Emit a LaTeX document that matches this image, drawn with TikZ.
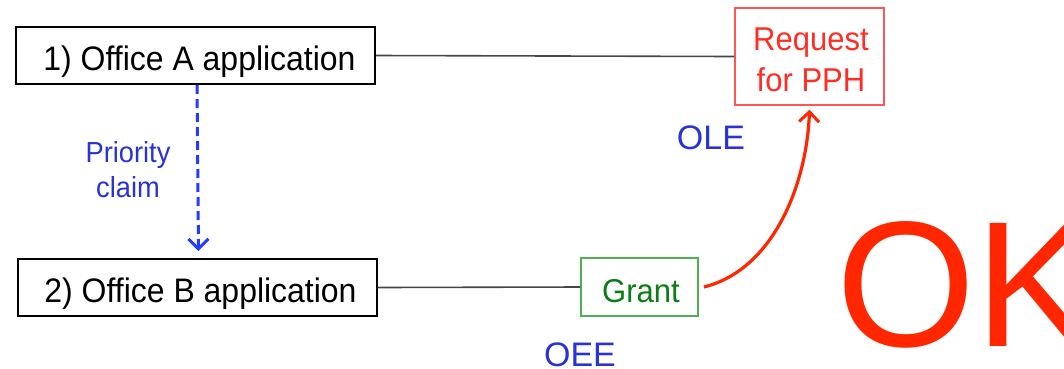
\documentclass[tikz,border=0pt]{standalone}
\usepackage{fontspec}
\setmainfont{Liberation Sans}
\newfontfamily\nsans[FakeStretch=0.94]{Liberation Sans}
\usetikzlibrary{arrows.meta}
\definecolor{tblue}{RGB}{40,50,215}
\definecolor{dblue}{RGB}{35,60,255}
\definecolor{tgreen}{RGB}{10,125,20}
\definecolor{bgreen}{RGB}{80,175,80}
\definecolor{tred}{RGB}{255,45,35}
\definecolor{bred}{RGB}{255,85,85}
\definecolor{okred}{RGB}{255,38,0}
\definecolor{lgrey}{RGB}{70,70,70}
\tikzset{
  appbox/.style={draw=black, line width=2pt, minimum width=359pt, minimum height=57pt, inner sep=0pt, text height=29pt, text depth=0pt, font=\nsans\fontsize{34}{40}\selectfont},
  reqbox/.style={draw=bred, line width=1.5pt, minimum width=149pt, minimum height=97pt, inner sep=0pt},
  reqtext/.style={inner sep=0pt, align=center, text=tred, font=\nsans\fontsize{33}{41}\selectfont},
  grantbox/.style={draw=bgreen, line width=1.8pt, minimum width=117pt, minimum height=58pt, inner sep=0pt, text height=30pt, text depth=0pt, text=tgreen, font=\nsans\fontsize{33}{38}\selectfont},
  officelbl/.style={text=tblue, inner sep=0pt, font=\fontsize{34}{40}\selectfont},
  claimlbl/.style={text=tblue, inner sep=0pt, align=center, font=\nsans\fontsize{29}{35}\selectfont},
  link/.style={draw=lgrey, line width=1.6pt},
  claimarrow/.style={draw=dblue, line width=3pt, dash pattern=on 9pt off 5pt, -{Straight Barb[length=10pt,width=20pt,line width=3pt]}},
  pptharrow/.style={draw=okred, line width=3.2pt, -{Straight Barb[length=10pt,width=20pt,line width=3pt]}},
  oklbl/.style={text=okred, inner sep=0pt, anchor=base west, font=\fontsize{179}{179}\selectfont}
}
\begin{document}
\begin{tikzpicture}[x=1pt,y=-1pt]
\clip (0,0) rectangle (1064,368);
\node[appbox] (A) at (195.5,55.5) {\hspace*{8pt}1) Office A application};
\node[appbox] (B) at (197,287.5) {\hspace*{7pt}2) Office B application};
\node[reqbox] (R) at (809.5,56.5) {};
\node[reqtext] (RT) at (811,60) {Request\\for PPH};
\node[grantbox] (G) at (639.5,287) {\hspace*{3pt}Grant};
\node[officelbl] (OLE) at (711,138) {OLE};
\node[officelbl] (OEE) at (580,355) {OEE};
\node[claimlbl] (PC) at (128,170) {Priority\\claim};
\node[oklbl] (OK) at (836,346) {OK};
\draw[link] (A.east) -- (R.west);
\draw[link] (B.east) -- (G.west);
\draw[claimarrow] ([xshift=1.5pt]A.south) -- ([xshift=1.5pt,yshift=7pt]B.north);
\draw[pptharrow] ([xshift=5pt]G.east) to[out=14,in=-92,looseness=0.9] ([yshift=-4pt]R.south);
\end{tikzpicture}
\end{document}
